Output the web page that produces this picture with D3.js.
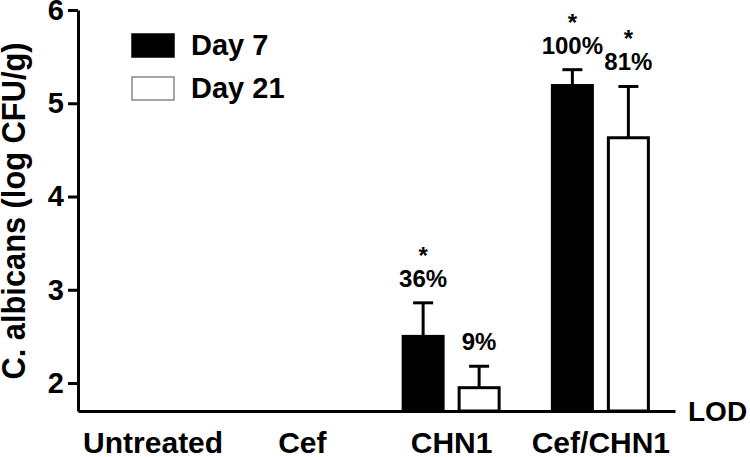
<!DOCTYPE html>
<html>
<head>
<meta charset="utf-8">
<script src="https://cdn.jsdelivr.net/npm/d3@7"></script>
<style>
  body { margin: 0; background: #fff; }
  svg { display: block; font-family: "Liberation Sans", Arial, sans-serif; font-weight: bold; }
</style>
</head>
<body>
<div id="container"></div>
<script>
/* DATA */
const groups = ["Untreated", "Cef", "CHN1", "Cef/CHN1"];
const days = ["Day 7", "Day 21"];
const day7 = [1.7, 1.7, 2.5, 5.19];
const day21 = [1.7, 1.7, 1.95, 4.63];
const err7 = [0, 0, 0.36, 0.17];
const err21 = [0, 0, 0.23, 0.55];
const pct7 = ["", "", "36%", "100%"];
const pct21 = ["", "", "9%", "81%"];
const star7 = [false, false, true, true];
const star21 = [false, false, false, true];
const yTicks = [2, 3, 4, 5, 6];
const lod = 1.7;

/* CONSTANTS */
const width = 750, height = 457;
const margin = { top: 10, bottom: 46, left: 78, right: 75 };
const font = "Liberation Sans, Arial, sans-serif";

const rows = [];
groups.forEach((g, i) => {
  rows.push({ group: g, day: days[0], value: day7[i], err: err7[i], pct: pct7[i], star: star7[i] });
  rows.push({ group: g, day: days[1], value: day21[i], err: err21[i], pct: pct21[i], star: star21[i] });
});

/* SCALES */
const xScale = d3.scalePoint()
  .domain(groups)
  .range([margin.left, width - margin.right])
  .padding(0.5);

const xSub = d3.scaleBand()
  .domain(days)
  .range([-48, 48])
  .paddingInner(0.2857);

const yScale = d3.scaleLinear()
  .domain([lod, 6])
  .range([height - margin.bottom, margin.top]);

const svg = d3.select("#container")
  .append("svg")
  .attr("width", width)
  .attr("height", height);

/* AXES */
const yAxis = d3.axisLeft(yScale)
  .tickValues(yTicks)
  .tickFormat(d3.format("d"))
  .tickSize(10)
  .tickSizeOuter(0)
  .tickPadding(4);

svg.append("g")
  .attr("transform", `translate(${margin.left},0)`)
  .call(yAxis)
  .call(g => g.selectAll("path, line").attr("stroke", "#000").attr("stroke-width", 3))
  .call(g => g.selectAll("text").attr("font-size", 29).attr("font-weight", "bold").attr("fill", "#000").attr("font-family", font));

const xAxis = d3.axisBottom(xScale)
  .tickSize(0)
  .tickSizeOuter(0)
  .tickPadding(21);

svg.append("g")
  .attr("transform", `translate(0,${yScale(lod)})`)
  .call(xAxis)
  .call(g => g.select(".domain").attr("stroke", "#000").attr("stroke-width", 3))
  .call(g => g.selectAll("text").attr("font-size", 30).attr("font-weight", "bold").attr("fill", "#000").attr("font-family", font));

svg.append("text")
  .attr("x", width - margin.right + 13)
  .attr("y", yScale(lod))
  .attr("dy", "0.36em")
  .attr("font-size", 28)
  .text("LOD");

svg.append("text")
  .attr("transform", "translate(25,211) rotate(-90)")
  .attr("text-anchor", "middle")
  .attr("font-size", 33)
  .attr("textLength", 337)
  .attr("lengthAdjust", "spacingAndGlyphs")
  .text("C. albicans (log CFU/g)");

/* BARS */
const barX = d => xScale(d.group) + xSub(d.day);

svg.selectAll("rect.bar")
  .data(rows)
  .join("rect")
  .attr("class", "bar")
  .attr("x", barX)
  .attr("y", d => yScale(d.value))
  .attr("width", xSub.bandwidth())
  .attr("height", d => yScale(lod) - yScale(d.value))
  .attr("fill", d => d.day === days[0] ? "#000" : "#fff")
  .attr("stroke", "#000")
  .attr("stroke-width", 3);

const withErr = rows.filter(d => d.err > 0);

svg.selectAll("line.err")
  .data(withErr)
  .join("line")
  .attr("class", "err")
  .attr("x1", d => barX(d) + xSub.bandwidth() / 2)
  .attr("x2", d => barX(d) + xSub.bandwidth() / 2)
  .attr("y1", d => yScale(d.value))
  .attr("y2", d => yScale(d.value + d.err))
  .attr("stroke", "#000")
  .attr("stroke-width", 3);

svg.selectAll("line.cap")
  .data(withErr)
  .join("line")
  .attr("class", "cap")
  .attr("x1", d => barX(d) + xSub.bandwidth() / 2 - 10)
  .attr("x2", d => barX(d) + xSub.bandwidth() / 2 + 10)
  .attr("y1", d => yScale(d.value + d.err))
  .attr("y2", d => yScale(d.value + d.err))
  .attr("stroke", "#000")
  .attr("stroke-width", 3);

/* ANNOTATIONS */
const labelled = rows.filter(d => d.pct !== "");

svg.selectAll("text.pct")
  .data(labelled)
  .join("text")
  .attr("class", "pct")
  .attr("x", d => barX(d) + xSub.bandwidth() / 2)
  .attr("y", d => yScale(d.value + d.err) - 16)
  .attr("text-anchor", "middle")
  .attr("font-size", 24)
  .text(d => d.pct);

svg.selectAll("text.star")
  .data(labelled.filter(d => d.star))
  .join("text")
  .attr("class", "star")
  .attr("x", d => barX(d) + xSub.bandwidth() / 2)
  .attr("y", d => yScale(d.value + d.err) - 39)
  .attr("text-anchor", "middle")
  .attr("font-size", 24)
  .text("*");

/* LEGEND */
const legend = svg.append("g")
  .attr("transform", "translate(132,34)");

legend.selectAll("rect")
  .data(days)
  .join("rect")
  .attr("x", 0)
  .attr("y", (d, i) => i * 43)
  .attr("width", 42)
  .attr("height", 23)
  .attr("fill", (d, i) => i === 0 ? "#000" : "#fff")
  .attr("stroke", (d, i) => i === 0 ? "#000" : "#888")
  .attr("stroke-width", 1.5);

legend.selectAll("text")
  .data(days)
  .join("text")
  .attr("x", 59)
  .attr("y", (d, i) => i * 43 + 21)
  .attr("font-size", 29)
  .text(d => d);
</script>
</body>
</html>
